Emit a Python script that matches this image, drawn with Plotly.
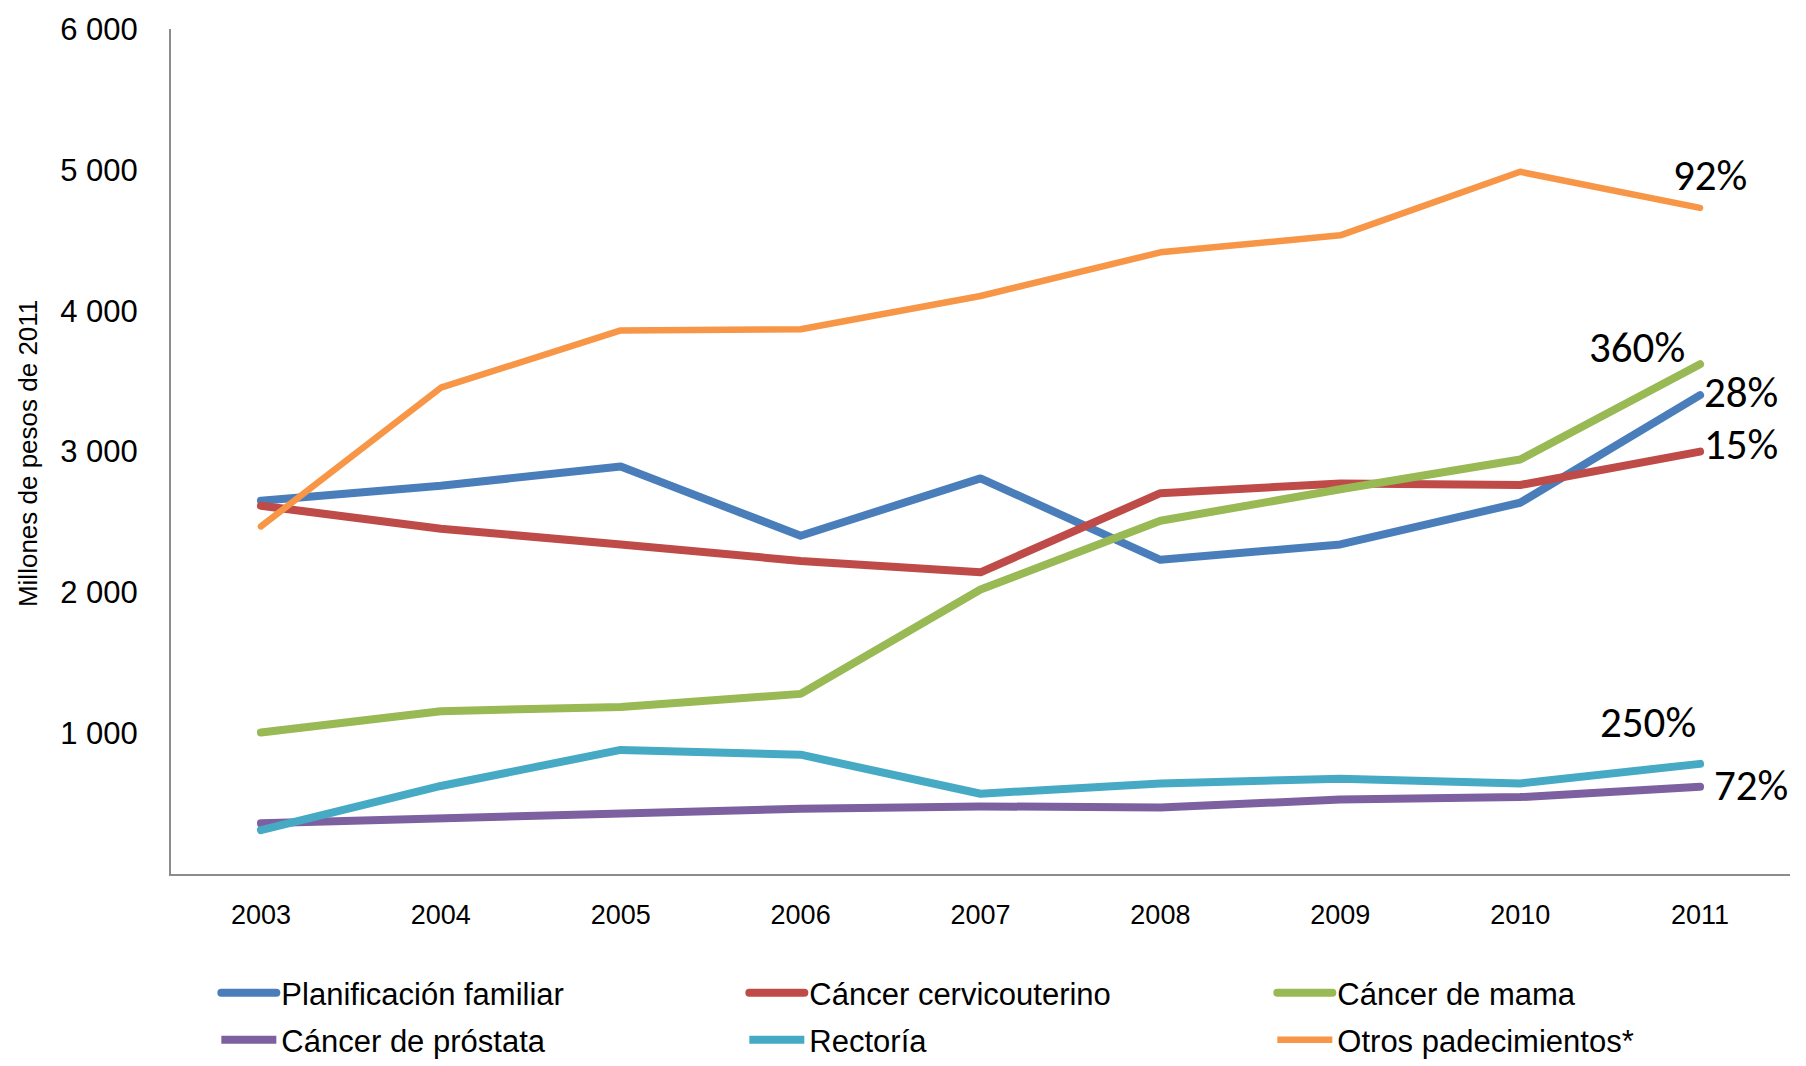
import plotly.graph_objects as go

# Gasto anual por programa, millones de pesos de 2011
years = ["2003", "2004", "2005", "2006", "2007", "2008", "2009", "2010", "2011"]

planificacion = [2650, 2757, 2893, 2402, 2809, 2231, 2340, 2636, 3400]
cervicouterino = [2615, 2452, 2339, 2223, 2142, 2704, 2772, 2762, 2999]
mama = [1005, 1156, 1186, 1279, 2020, 2508, 2732, 2943, 3620]
prostata = [360, 392, 424, 464, 480, 472, 529, 546, 619]
rectoria = [312, 625, 881, 847, 570, 643, 676, 643, 782]
otros = [2468, 3453, 3860, 3868, 4104, 4414, 4535, 4986, 4730]

series_names = [
    "Planificación familiar", "Cáncer cervicouterino", "Cáncer de mama",
    "Cáncer de próstata", "Rectoría", "Otros padecimientos*",
]
series_values = [planificacion, cervicouterino, mama, prostata, rectoria, otros]
series_colors = ["#4A7EBB", "#BE4B48", "#98B954", "#7D60A0", "#46AAC5", "#F79646"]
series_widths = [8, 8, 8, 8, 8, 6.5]
# first three entries on the upper legend row, the rest on the lower one
series_legend = ["legend", "legend", "legend", "legend2", "legend2", "legend2"]

# growth labels at the 2011 end of each line: text, x offset, y offset (px)
growth_labels = ["28%", "15%", "360%", "72%", "250%", "92%"]
label_offsets = [(41, 3), (41, 7), (-63, 17), (51, 1), (-52, 41), (10, 32)]

y_ticks = [1000, 2000, 3000, 4000, 5000, 6000]
y_tick_text = ["1 000", "2 000", "3 000", "4 000", "5 000", "6 000"]

sans = "Liberation Sans, Arial, sans-serif"
label_font = "Carlito, Lato, Calibri, sans-serif"

x_idx = list(range(len(years)))

fig = go.Figure()
for name, vals, color, w, lg in zip(series_names, series_values, series_colors,
                                    series_widths, series_legend):
    fig.add_trace(go.Scatter(
        x=x_idx, y=vals, name=name, mode="lines",
        line=dict(color=color, width=w), legend=lg,
        cliponaxis=False, hoverinfo="skip",
    ))

annotations = []
for vals, text, (dx, dy) in zip(series_values, growth_labels, label_offsets):
    annotations.append(dict(
        x=x_idx[-1], y=vals[-1], xref="x", yref="y", text=text,
        showarrow=False, xanchor="center", yanchor="middle",
        xshift=dx, yshift=dy,
        font=dict(family=label_font, size=43, color="#000000"),
    ))

annotations.append(dict(
    x=-0.0884, y=0.498, xref="paper", yref="paper",
    text="Millones de pesos de 2011", textangle=-90, showarrow=False,
    xanchor="center", yanchor="middle",
    font=dict(family=sans, size=26, color="#000000"),
))

legend_common = dict(
    orientation="h", x=0.028, xanchor="left", yanchor="top", yref="container",
    entrywidth=458, entrywidthmode="pixels", itemwidth=55,
    font=dict(family=sans, size=31, color="#000000"),
    bgcolor="rgba(0,0,0,0)",
)

fig.update_layout(
    width=1806, height=1066,
    margin=dict(l=171, r=16, t=26, b=192),
    paper_bgcolor="white", plot_bgcolor="white",
    showlegend=True,
    legend=dict(legend_common, y=0.0938),
    legend2=dict(legend_common, y=0.0497),
    annotations=annotations,
    xaxis=dict(
        range=[-0.5, 8.5], tickmode="array", tickvals=x_idx, ticktext=years,
        showgrid=False, zeroline=False, showline=True,
        linecolor="#8C8C8C", linewidth=2, ticks="", ticklabelstandoff=16,
        tickfont=dict(family=sans, size=27, color="#000000"),
        fixedrange=True,
    ),
    yaxis=dict(
        range=[0, 6000], tickmode="array", tickvals=y_ticks, ticktext=y_tick_text,
        showgrid=False, zeroline=False, showline=True,
        linecolor="#8C8C8C", linewidth=2, ticks="", ticklabelstandoff=25,
        tickfont=dict(family=sans, size=31, color="#000000"),
        fixedrange=True,
    ),
)

round_caps = """
document.querySelectorAll('.scatterlayer .js-line, .legend .js-line').forEach(function (p) {
  p.style.strokeLinecap = 'round';
  p.style.strokeLinejoin = 'round';
});
"""

fig.write_html("out.html", config={"displayModeBar": False}, post_script=round_caps)
